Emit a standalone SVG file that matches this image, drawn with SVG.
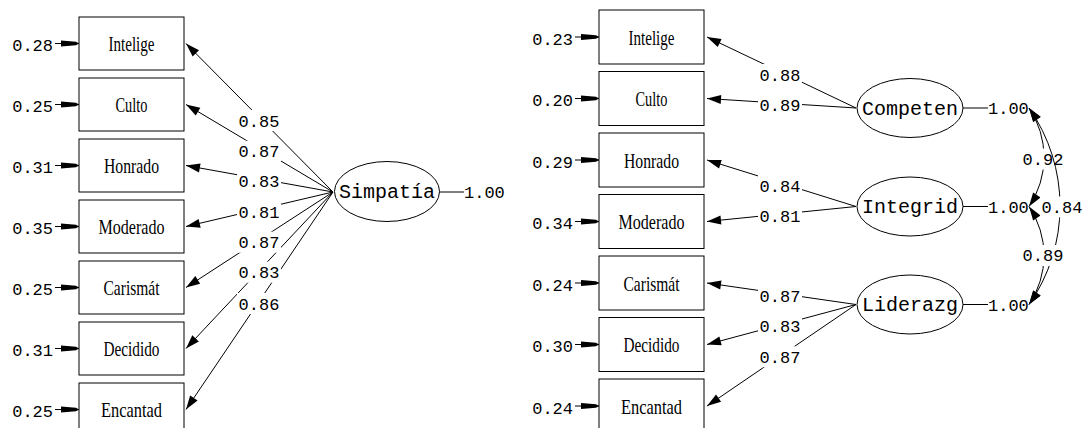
<svg xmlns="http://www.w3.org/2000/svg" width="1082" height="428" viewBox="0 0 1082 428">
<style>
.box{fill:#fff;stroke:#000;stroke-width:1}
.ell{fill:#fff;stroke:#000;stroke-width:1}
.ln{fill:none;stroke:#000;stroke-width:1}
.obs{font-family:"Liberation Serif","Times New Roman",serif;font-size:21px;fill:#000;text-anchor:middle}
.lat{font-family:"Liberation Mono","Courier New",monospace;font-size:20px;fill:#000;text-anchor:middle}
.num{font-family:"Liberation Mono","Courier New",monospace;font-size:17px;fill:#000}
.mid{text-anchor:middle}
.end{text-anchor:end}
.bg{fill:#fff;stroke:none}
</style>
<defs>
<marker id="ah" markerUnits="userSpaceOnUse" markerWidth="16" markerHeight="10" refX="14" refY="5" orient="auto" overflow="visible">
<path d="M0,0.5 L14,5 L0,9.5 z" fill="#000"/>
</marker>
<marker id="ah2" markerUnits="userSpaceOnUse" markerWidth="16" markerHeight="10" refX="14" refY="5" orient="auto-start-reverse" overflow="visible">
<path d="M0,0.5 L14,5 L0,9.5 z" fill="#000"/>
</marker>
<marker id="eh" markerUnits="userSpaceOnUse" markerWidth="18" markerHeight="6" refX="18" refY="3" orient="auto" overflow="visible">
<path d="M0,0 L15,1.2 L18,3 L15,4.8 L0,6 z" fill="#000"/>
</marker>
</defs>

<g id="connectors">
<!-- left error arrows -->
<g class="ln" marker-end="url(#eh)">
<line x1="55" y1="43.5" x2="79" y2="43.5"/>
<line x1="55" y1="104.5" x2="79" y2="104.5"/>
<line x1="55" y1="165.5" x2="79" y2="165.5"/>
<line x1="55" y1="226.5" x2="79" y2="226.5"/>
<line x1="55" y1="287.5" x2="79" y2="287.5"/>
<line x1="55" y1="348.5" x2="79" y2="348.5"/>
<line x1="55" y1="409.5" x2="79" y2="409.5"/>
</g>
<!-- right error arrows -->
<g class="ln" marker-end="url(#eh)">
<line x1="575" y1="37" x2="599" y2="37"/>
<line x1="575" y1="98.5" x2="599" y2="98.5"/>
<line x1="575" y1="160" x2="599" y2="160"/>
<line x1="575" y1="221.5" x2="599" y2="221.5"/>
<line x1="575" y1="283" x2="599" y2="283"/>
<line x1="575" y1="344.5" x2="599" y2="344.5"/>
<line x1="575" y1="406" x2="599" y2="406"/>
</g>
<!-- left loadings -->
<g class="ln" marker-end="url(#ah)">
<line x1="333" y1="192" x2="186" y2="43.5"/>
<line x1="333" y1="192" x2="186" y2="104.5"/>
<line x1="333" y1="192" x2="186" y2="165.5"/>
<line x1="333" y1="192" x2="186" y2="226.5"/>
<line x1="333" y1="192" x2="186" y2="287.5"/>
<line x1="333" y1="192" x2="186" y2="348.5"/>
<line x1="333" y1="192" x2="186" y2="409.5"/>
</g>
<line class="ln" x1="439" y1="192" x2="464" y2="192"/>
<!-- right loadings -->
<g class="ln" marker-end="url(#ah)">
<line x1="856" y1="108" x2="707" y2="37"/>
<line x1="856" y1="108" x2="707" y2="98.5"/>
<line x1="856" y1="206.5" x2="707" y2="160"/>
<line x1="856" y1="206.5" x2="707" y2="221.5"/>
<line x1="856" y1="304.5" x2="707" y2="283"/>
<line x1="856" y1="304.5" x2="707" y2="344.5"/>
<line x1="856" y1="304.5" x2="707" y2="406"/>
</g>
<line class="ln" x1="963" y1="108" x2="988" y2="108"/>
<line class="ln" x1="963" y1="206.5" x2="988" y2="206.5"/>
<line class="ln" x1="963" y1="304.5" x2="988" y2="304.5"/>

<!-- loading labels left -->
<g>
<rect class="bg" x="237" y="110" width="44" height="21"/>
<rect class="bg" x="237" y="140.7" width="44" height="21"/>
<rect class="bg" x="237" y="170.7" width="44" height="21"/>
<rect class="bg" x="237" y="201.3" width="44" height="21"/>
<rect class="bg" x="237" y="231.7" width="44" height="21"/>
<rect class="bg" x="237" y="261.7" width="44" height="21"/>
<rect class="bg" x="237" y="293" width="44" height="21"/>
<text class="num mid" x="259" y="126.5">0.85</text>
<text class="num mid" x="259" y="157.2">0.87</text>
<text class="num mid" x="259" y="187.2">0.83</text>
<text class="num mid" x="259" y="217.8">0.81</text>
<text class="num mid" x="259" y="248.2">0.87</text>
<text class="num mid" x="259" y="278.2">0.83</text>
<text class="num mid" x="259" y="309.5">0.86</text>
</g>
<!-- loading labels right -->
<g>
<rect class="bg" x="758" y="64" width="44" height="21"/>
<rect class="bg" x="758" y="94" width="44" height="21"/>
<rect class="bg" x="758" y="175" width="44" height="21"/>
<rect class="bg" x="758" y="205" width="44" height="21"/>
<rect class="bg" x="758" y="285.7" width="44" height="21"/>
<rect class="bg" x="758" y="315.7" width="44" height="21"/>
<rect class="bg" x="758" y="346.3" width="44" height="21"/>
<text class="num mid" x="780" y="80.5">0.88</text>
<text class="num mid" x="780" y="110.5">0.89</text>
<text class="num mid" x="780" y="191.5">0.84</text>
<text class="num mid" x="780" y="221.5">0.81</text>
<text class="num mid" x="780" y="302.2">0.87</text>
<text class="num mid" x="780" y="332.2">0.83</text>
<text class="num mid" x="780" y="362.8">0.87</text>
</g>
<!-- correlation arcs -->
<path class="ln" d="M1029,108 A88,88 0 0 1 1029,206.5" marker-start="url(#ah2)" marker-end="url(#ah2)"/>
<path class="ln" d="M1029,206.5 A87.5,87.5 0 0 1 1029,304.5" marker-start="url(#ah2)" marker-end="url(#ah2)"/>
<rect class="bg" x="1021" y="148.5" width="44" height="21"/>
<text class="num mid" x="1043" y="164.5">0.92</text>
<path class="ln" d="M1029,108 A171,171 0 0 1 1029,304.5" marker-start="url(#ah2)" marker-end="url(#ah2)"/>
<rect class="bg" x="1040" y="196.5" width="42" height="21"/>
<text class="num mid" x="1062" y="212.5">0.84</text>
<rect class="bg" x="1021" y="245" width="44" height="21"/>
<text class="num mid" x="1043" y="261">0.89</text>
</g>

<!-- left panel nodes -->
<g id="L_Intelige"><rect class="box" x="79" y="17" width="105" height="53"/><text class="obs" x="131.5" y="51" textLength="46" lengthAdjust="spacingAndGlyphs">Intelige</text><text class="num end" x="53" y="51">0.28</text></g>
<g id="L_Culto"><rect class="box" x="79" y="78" width="105" height="53"/><text class="obs" x="131.5" y="112" textLength="32" lengthAdjust="spacingAndGlyphs">Culto</text><text class="num end" x="53" y="112">0.25</text></g>
<g id="L_Honrado"><rect class="box" x="79" y="139" width="105" height="53"/><text class="obs" x="131.5" y="173" textLength="55" lengthAdjust="spacingAndGlyphs">Honrado</text><text class="num end" x="53" y="173">0.31</text></g>
<g id="L_Moderado"><rect class="box" x="79" y="200" width="105" height="53"/><text class="obs" x="131.5" y="234" textLength="66" lengthAdjust="spacingAndGlyphs">Moderado</text><text class="num end" x="53" y="234">0.35</text></g>
<g id="L_Carismat"><rect class="box" x="79" y="261" width="105" height="53"/><text class="obs" x="131.5" y="295" textLength="56" lengthAdjust="spacingAndGlyphs">Carismát</text><text class="num end" x="53" y="295">0.25</text></g>
<g id="L_Decidido"><rect class="box" x="79" y="322" width="105" height="53"/><text class="obs" x="131.5" y="356" textLength="56" lengthAdjust="spacingAndGlyphs">Decidido</text><text class="num end" x="53" y="356">0.31</text></g>
<g id="L_Encantad"><rect class="box" x="79" y="383" width="105" height="53"/><text class="obs" x="131.5" y="417" textLength="61" lengthAdjust="spacingAndGlyphs">Encantad</text><text class="num end" x="53" y="417">0.25</text></g>
<g id="L_Simpatia"><ellipse class="ell" cx="387" cy="191.5" rx="52.5" ry="30"/><text class="lat" x="387" y="198">Simpatía</text><text class="num" x="464" y="197.5">1.00</text></g>

<!-- right panel nodes -->
<g id="R_Intelige"><rect class="box" x="599" y="10" width="105" height="54"/><text class="obs" x="651.5" y="44.5" textLength="46" lengthAdjust="spacingAndGlyphs">Intelige</text><text class="num end" x="573" y="44.5">0.23</text></g>
<g id="R_Culto"><rect class="box" x="599" y="71.5" width="105" height="54"/><text class="obs" x="651.5" y="106" textLength="32" lengthAdjust="spacingAndGlyphs">Culto</text><text class="num end" x="573" y="106">0.20</text></g>
<g id="R_Honrado"><rect class="box" x="599" y="133" width="105" height="54"/><text class="obs" x="651.5" y="167.5" textLength="55" lengthAdjust="spacingAndGlyphs">Honrado</text><text class="num end" x="573" y="167.5">0.29</text></g>
<g id="R_Moderado"><rect class="box" x="599" y="194.5" width="105" height="54"/><text class="obs" x="651.5" y="229" textLength="66" lengthAdjust="spacingAndGlyphs">Moderado</text><text class="num end" x="573" y="229">0.34</text></g>
<g id="R_Carismat"><rect class="box" x="599" y="256" width="105" height="54"/><text class="obs" x="651.5" y="290.5" textLength="56" lengthAdjust="spacingAndGlyphs">Carismát</text><text class="num end" x="573" y="290.5">0.24</text></g>
<g id="R_Decidido"><rect class="box" x="599" y="317.5" width="105" height="54"/><text class="obs" x="651.5" y="352" textLength="56" lengthAdjust="spacingAndGlyphs">Decidido</text><text class="num end" x="573" y="352">0.30</text></g>
<g id="R_Encantad"><rect class="box" x="599" y="379" width="105" height="54"/><text class="obs" x="651.5" y="413.5" textLength="61" lengthAdjust="spacingAndGlyphs">Encantad</text><text class="num end" x="573" y="413.5">0.24</text></g>
<g id="R_Competen"><ellipse class="ell" cx="910" cy="108" rx="53" ry="29.5"/><text class="lat" x="910" y="114.5">Competen</text><text class="num" x="988" y="114">1.00</text></g>
<g id="R_Integrid"><ellipse class="ell" cx="910" cy="206.5" rx="53" ry="29.5"/><text class="lat" x="910" y="213">Integrid</text><text class="num" x="988" y="212.5">1.00</text></g>
<g id="R_Liderazg"><ellipse class="ell" cx="910" cy="304.5" rx="53" ry="29.5"/><text class="lat" x="910" y="311">Liderazg</text><text class="num" x="988" y="310.5">1.00</text></g>
</svg>
